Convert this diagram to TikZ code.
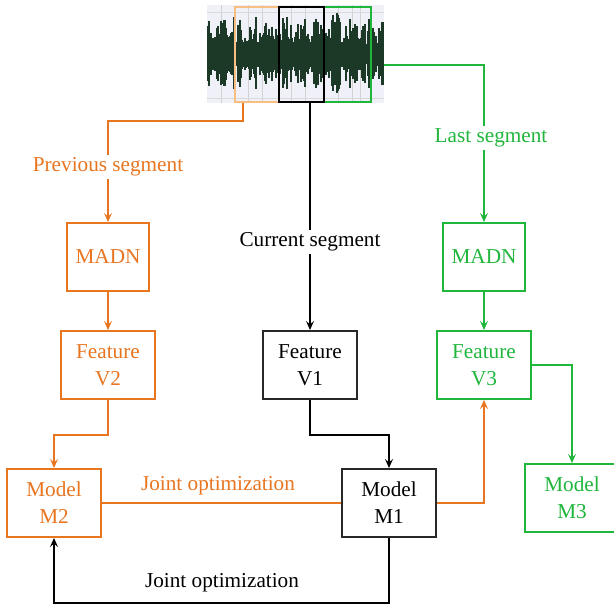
\documentclass[tikz,border=0pt]{standalone}
\usepackage{fontspec}
\setmainfont{Liberation Serif}
\usetikzlibrary{arrows.meta,calc}
\definecolor{corange}{RGB}{232,117,32}
\definecolor{clorange}{RGB}{249,190,130}
\definecolor{cgreen}{RGB}{32,182,60}
\definecolor{cdark}{RGB}{40,40,40}
\definecolor{wavecol}{RGB}{28,56,38}
\definecolor{wavebg}{RGB}{240,240,248}
\begin{document}
\begin{tikzpicture}[x=1bp,y=-1bp,
  box/.style={draw, line width=2bp, fill=white, inner sep=0pt, align=center,
     font=\fontsize{21.3}{27.1}\selectfont},
  madnbox/.style={box, minimum width=82bp, minimum height=68bp},
  bigbox/.style={box, minimum width=94bp, minimum height=68bp},
  conn/.style={line width=2bp, -{Stealth[length=9bp,width=8bp,inset=3.5bp]}},
  plain/.style={line width=2bp},
  lab/.style={fill=white, inner sep=3bp, font=\fontsize{21.3}{24}\selectfont},
  seg/.style={line width=2.4bp, minimum width=44bp, minimum height=95bp, inner sep=0pt}]
\useasboundingbox (0,0) rectangle (614,607);
\clip (0,0) rectangle (614,607);
% waveform
\node[minimum width=177bp, minimum height=98bp, inner sep=0pt, fill=wavebg] (wave) at (295.5,54) {};
\begin{scope}
\clip (207,5) rectangle (384,103);
\foreach \gx in {221,248,262,291,305,338,352,360}
  \draw[gray!35, line width=0.8bp] (\gx,5) -- (\gx,103);
\draw[gray!30, line width=0.6bp] (207,12) -- (384,12) (207,98) -- (384,98);
\pgfmathsetseed{11}
\foreach \i in {208,...,383} {
  \pgfmathsetmacro\a{10+34*rnd*(0.3+0.7*abs(sin(\i*11)))}
  \draw[wavecol, line width=1.15bp] (\i,55-\a) -- (\i,55+0.9*\a);
}
\end{scope}
\node[seg, draw=clorange] (segP) at (257,54.5) {};
\node[seg, draw=cgreen, minimum width=47bp] (segL) at (347.5,54.5) {};
\node[seg, draw=black, minimum width=45bp] (segC) at (301.5,54.5) {};
% boxes
\node[madnbox, draw=corange, text=corange] (madnP) at (108,257) {MADN};
\node[madnbox, draw=cgreen, text=cgreen] (madnL) at (484,257) {MADN};
\node[bigbox, draw=corange, text=corange] (featP) at (108,365) {Feature\\V2};
\node[bigbox, draw=cdark, text=black] (featC) at (310,365) {Feature\\V1};
\node[bigbox, draw=cgreen, text=cgreen] (featL) at (484,365) {Feature\\V3};
\node[bigbox, draw=corange, text=corange] (modP) at (54,503) {Model\\M2};
\node[bigbox, draw=cdark, text=black] (modC) at (389,503) {Model\\M1};
\node[bigbox, draw=cgreen, text=cgreen] (modL) at (572,498) {Model\\M3};
% connectors from segments
\draw[conn, corange] ([xshift=-14bp]segP.south) -- ++(0,18) -| (madnP.north);
\draw[conn, cgreen] ([yshift=-11bp]wave.east) -| (madnL.north);
\draw[conn, black] (featC.north |- segC.south) -- (featC.north);
% segment labels
\node[lab, text=corange] (lprev) at (108,167) {Previous segment};
\node[lab, text=cgreen] (llast) at (491,138) {Last segment};
\node[lab, text=black] (lcur) at (310,242) {Current segment};
% internal flow
\draw[conn, corange] (madnP) -- (featP);
\draw[conn, cgreen] (madnL) -- (featL);
\draw[conn, corange] (featP.south) -- ++(0,35) -| (modP.north);
\draw[conn, black] (featC.south) -- ++(0,35) -| (modC.north);
\draw[conn, cgreen] (featL.east) -| (modL.north);
\draw[plain, corange] (modP.east) -- (modC.west);
\draw[conn, corange] (modC.east) -| (featL.south);
\draw[conn, black] (modC.south) -- ++(0,65) -| (modP.south);
\node[text=corange, font=\fontsize{21.3}{24}\selectfont, inner sep=0pt] (jo1) at (218,486) {Joint optimization};
\node[text=black, font=\fontsize{21.3}{24}\selectfont, inner sep=0pt] (jo2) at (222,583) {Joint optimization};
\end{tikzpicture}
\end{document}
